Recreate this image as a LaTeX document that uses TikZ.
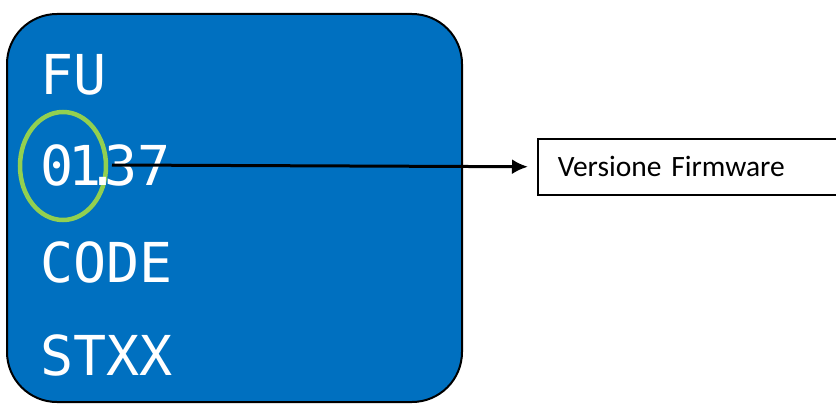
\documentclass[tikz,border=0pt]{standalone}
\usepackage{fontspec}
\newfontfamily\lcdfont{DejaVu Sans Mono}
\newfontfamily\labelfont{Carlito}
\usetikzlibrary{arrows.meta,positioning}
\definecolor{panelblue}{HTML}{0070C0}
\definecolor{ringgreen}{HTML}{92D050}
\tikzset{>=Latex,every node/.style={inner sep=0pt},lcd/.style={anchor=base west,text=white,font=\lcdfont\fontsize{55}{55}\selectfont},panel/.style={draw=black,line width=2pt,fill=panelblue,rounded corners=50pt},ring/.style={draw=ringgreen,line width=4.5pt},flow/.style={line width=3pt,->,>={Latex[length=16pt,width=15pt]}},tag/.style={draw=black,line width=1.5pt,fill=white,anchor=north west,font=\labelfont\fontsize{29.5}{29.5}\selectfont}}

\begin{document}
\begin{tikzpicture}[x=1pt,y=-1pt]
\useasboundingbox (0,0) rectangle (836,404);
\clip (0,0) rectangle (836,404);
\draw[panel] (7,14) rectangle (462,402);
\draw[ring] (63,166) ellipse [x radius=43pt,y radius=54pt];
\node[lcd] (fu) at (40,95){FU};
\node[lcd] (ver) at (40,185){0\kern-5pt1\kern-15pt.\kern-15pt37};
\node[lcd] (code) at (40,282){CODE};
\node[lcd] (stxx) at (40,375){STXX};
\coordinate (start) at (112,165);
\node[tag,minimum width=320pt,minimum height=56pt,text width=296pt,align=left,inner xsep=20pt] (fw) at (537,138){Versione Firmware};
\draw[flow] (start) -- ([xshift=-9pt]fw.west);
\end{tikzpicture}
\end{document}
